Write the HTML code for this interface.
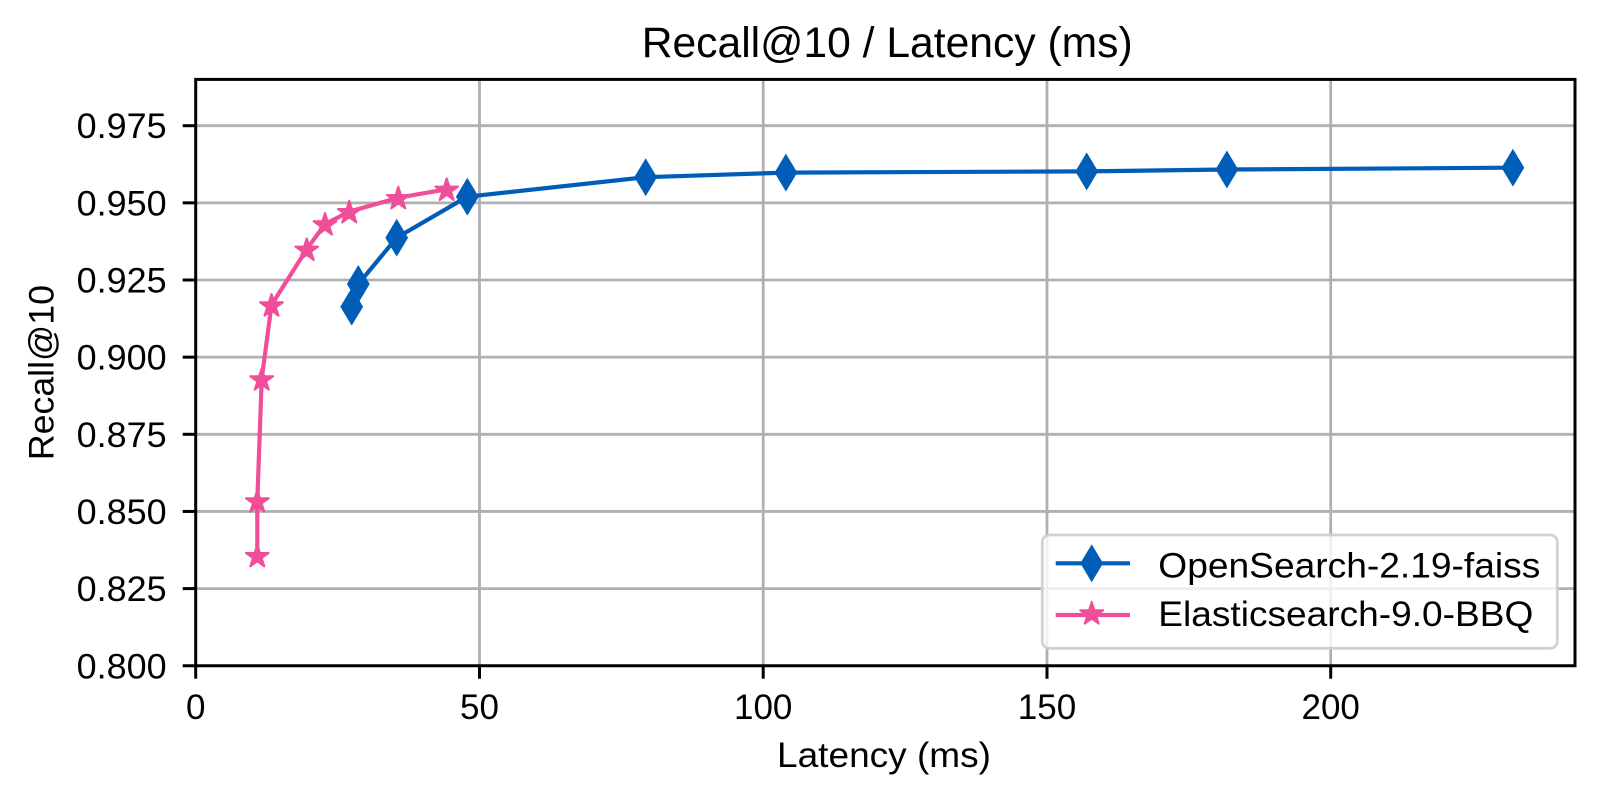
<!DOCTYPE html>
<html>
<head>
<meta charset="utf-8">
<style>
  html, body { margin: 0; padding: 0; background: #ffffff; }
  svg { display: block; }
  text { font-family: "Liberation Sans", "DejaVu Sans", sans-serif; fill: #000; }
</style>
</head>
<body>
<svg width="1600" height="799" viewBox="0 0 1600 799" xmlns="http://www.w3.org/2000/svg">
  <rect x="0" y="0" width="1600" height="799" fill="#ffffff"/>

  <!-- Title -->
  <text x="641.7" y="57" font-size="43" textLength="491" lengthAdjust="spacingAndGlyphs">Recall@10 / Latency (ms)</text>

  <!-- Grid -->
  <g stroke="#b0b0b0" stroke-width="2.8" fill="none">
    <line x1="479.5" y1="79.4" x2="479.5" y2="665.75"/>
    <line x1="763.2" y1="79.4" x2="763.2" y2="665.75"/>
    <line x1="1047" y1="79.4" x2="1047" y2="665.75"/>
    <line x1="1330.7" y1="79.4" x2="1330.7" y2="665.75"/>
    <line x1="195.7" y1="588.6" x2="1575" y2="588.6"/>
    <line x1="195.7" y1="511.45" x2="1575" y2="511.45"/>
    <line x1="195.7" y1="434.3" x2="1575" y2="434.3"/>
    <line x1="195.7" y1="357.15" x2="1575" y2="357.15"/>
    <line x1="195.7" y1="280" x2="1575" y2="280"/>
    <line x1="195.7" y1="202.85" x2="1575" y2="202.85"/>
    <line x1="195.7" y1="125.7" x2="1575" y2="125.7"/>
  </g>

  <defs>
    <path id="dia" d="M0,-18 L10.8,0 L0,18 L-10.8,0 Z"/>
    <!-- 5-point star, outer r=12, centred visually -->
    <path id="star" d="M0.000,-11.000 L2.687,-2.698 L11.413,-2.708 L4.347,2.413 L7.054,10.709 L0.000,5.570 L-7.054,10.709 L-4.347,2.413 L-11.413,-2.708 L-2.687,-2.698 Z"/>
  </defs>

  <!-- Series: OpenSearch (blue) -->
  <polyline fill="none" stroke="#005EB8" stroke-width="4.2" stroke-linejoin="round" stroke-linecap="round"
    points="351.7,306.7 358.3,284 396.7,237.7 467.3,196.7 645.7,177.2 785.9,172.6 1086.7,171.4 1226.9,169.5 1512.9,167.7"/>
  <g fill="#005EB8" stroke="#005EB8" stroke-width="1" stroke-linejoin="miter">
    <use href="#dia" x="351.7" y="306.7"/>
    <use href="#dia" x="358.3" y="284"/>
    <use href="#dia" x="396.7" y="237.7"/>
    <use href="#dia" x="467.3" y="196.7"/>
    <use href="#dia" x="645.7" y="177.2"/>
    <use href="#dia" x="785.9" y="172.6"/>
    <use href="#dia" x="1086.7" y="171.4"/>
    <use href="#dia" x="1226.9" y="169.5"/>
    <use href="#dia" x="1512.9" y="167.7"/>
  </g>

  <!-- Series: Elasticsearch (pink) -->
  <polyline fill="none" stroke="#F04E98" stroke-width="4.2" stroke-linejoin="round" stroke-linecap="round"
    points="257.3,555.7 257.3,501 261.7,379 271.5,305 306.7,249.3 325,224 349.3,211.7 398.3,197.7 446.7,189.3"/>
  <g fill="#F04E98" stroke="#F04E98" stroke-width="2" stroke-linejoin="round">
    <use href="#star" x="257.3" y="555.7"/>
    <use href="#star" x="257.3" y="501"/>
    <use href="#star" x="261.7" y="379"/>
    <use href="#star" x="271.5" y="305"/>
    <use href="#star" x="306.7" y="249.3"/>
    <use href="#star" x="325" y="224"/>
    <use href="#star" x="349.3" y="211.7"/>
    <use href="#star" x="398.3" y="197.7"/>
    <use href="#star" x="446.7" y="189.3"/>
  </g>

  <!-- Spines -->
  <rect x="195.7" y="79.4" width="1379.3" height="586.35" fill="none" stroke="#000" stroke-width="3"/>

  <!-- Ticks -->
  <g stroke="#000" stroke-width="3">
    <line x1="195.7" y1="665.75" x2="195.7" y2="678.75"/>
    <line x1="479.5" y1="665.75" x2="479.5" y2="678.75"/>
    <line x1="763.2" y1="665.75" x2="763.2" y2="678.75"/>
    <line x1="1047" y1="665.75" x2="1047" y2="678.75"/>
    <line x1="1330.7" y1="665.75" x2="1330.7" y2="678.75"/>
    <line x1="182.7" y1="665.75" x2="195.7" y2="665.75"/>
    <line x1="182.7" y1="588.6" x2="195.7" y2="588.6"/>
    <line x1="182.7" y1="511.45" x2="195.7" y2="511.45"/>
    <line x1="182.7" y1="434.3" x2="195.7" y2="434.3"/>
    <line x1="182.7" y1="357.15" x2="195.7" y2="357.15"/>
    <line x1="182.7" y1="280" x2="195.7" y2="280"/>
    <line x1="182.7" y1="202.85" x2="195.7" y2="202.85"/>
    <line x1="182.7" y1="125.7" x2="195.7" y2="125.7"/>
  </g>

  <!-- X tick labels -->
  <g font-size="35" text-anchor="middle">
    <text x="195.7" y="719">0</text>
    <text x="479.5" y="719">50</text>
    <text x="763.2" y="719">100</text>
    <text x="1047" y="719">150</text>
    <text x="1330.7" y="719">200</text>
  </g>

  <!-- Y tick labels -->
  <g font-size="35">
    <text x="76.7" y="678.25" textLength="90" lengthAdjust="spacingAndGlyphs">0.800</text>
    <text x="76.7" y="601.1" textLength="90" lengthAdjust="spacingAndGlyphs">0.825</text>
    <text x="76.7" y="523.95" textLength="90" lengthAdjust="spacingAndGlyphs">0.850</text>
    <text x="76.7" y="446.8" textLength="90" lengthAdjust="spacingAndGlyphs">0.875</text>
    <text x="76.7" y="369.65" textLength="90" lengthAdjust="spacingAndGlyphs">0.900</text>
    <text x="76.7" y="292.5" textLength="90" lengthAdjust="spacingAndGlyphs">0.925</text>
    <text x="76.7" y="215.35" textLength="90" lengthAdjust="spacingAndGlyphs">0.950</text>
    <text x="76.7" y="138.2" textLength="90" lengthAdjust="spacingAndGlyphs">0.975</text>
  </g>

  <!-- Axis labels -->
  <text x="777" y="767" font-size="35" textLength="214" lengthAdjust="spacingAndGlyphs">Latency (ms)</text>
  <text transform="translate(53.5,372.6) rotate(-90)" x="-87.5" y="0" font-size="35" textLength="175" lengthAdjust="spacingAndGlyphs">Recall@10</text>

  <!-- Legend -->
  <rect x="1042.3" y="535" width="515" height="113.3" rx="7" ry="7" fill="#ffffff" fill-opacity="0.8" stroke="#cccccc" stroke-opacity="0.9" stroke-width="2.8"/>
  <line x1="1055.7" y1="563.3" x2="1130" y2="563.3" stroke="#005EB8" stroke-width="4.2"/>
  <use href="#dia" x="1091.7" y="563.3" fill="#005EB8" stroke="#005EB8" stroke-width="1"/>
  <line x1="1055.7" y1="615" x2="1130" y2="615" stroke="#F04E98" stroke-width="4.2"/>
  <use href="#star" x="1091.7" y="613" fill="#F04E98" stroke="#F04E98" stroke-width="2" stroke-linejoin="round"/>
  <text x="1158.3" y="577.5" font-size="35" textLength="382" lengthAdjust="spacingAndGlyphs">OpenSearch-2.19-faiss</text>
  <text x="1158.3" y="626" font-size="35" textLength="375" lengthAdjust="spacingAndGlyphs">Elasticsearch-9.0-BBQ</text>
</svg>
</body>
</html>
